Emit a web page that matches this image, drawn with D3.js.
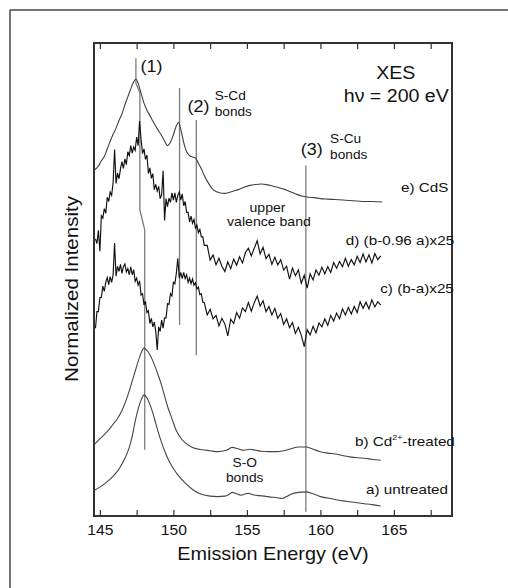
<!DOCTYPE html>
<html><head><meta charset="utf-8">
<script src="https://cdn.jsdelivr.net/npm/d3@7"></script>
<style>
body{margin:0;background:#fff}
svg{display:block}
text{font-family:"Liberation Sans", Arial, Helvetica, sans-serif; fill:#111}
</style>
</head><body>
<svg id="chart" width="508" height="588"></svg>
<script>
// ---------- DATA ----------
// Shared energy grid (eV) for the two difference spectra
const diffEnergy = [144.7,144.8,144.9,145.0,145.1,145.2,145.3,145.4,145.5,145.6,145.7,145.8,145.9,146.0,146.1,146.2,146.3,146.4,146.5,146.6,146.7,146.8,146.9,147.0,147.1,147.2,147.3,147.4,147.5,147.6,147.7,147.8,147.9,148.0,148.1,148.2,148.3,148.4,148.5,148.6,148.7,148.8,148.9,149.0,149.1,149.2,149.3,149.4,149.5,149.6,149.7,149.8,149.9,150.0,150.1,150.2,150.3,150.4,150.5,150.6,150.7,150.8,150.9,151.0,151.1,151.2,151.3,151.4,151.5,151.6,151.7,151.8,151.9,152.0,152.1,
152.3,152.5,152.7,152.9,153.1,153.3,153.5,153.7,153.9,154.1,154.3,154.5,154.7,154.9,155.1,155.3,155.5,155.7,155.9,156.1,156.3,156.5,156.7,156.9,157.1,157.3,157.5,157.7,157.9,158.1,158.3,158.5,158.7,158.9,159.1,159.3,159.5,159.7,159.9,160.1,160.3,160.5,160.7,160.9,161.1,161.3,161.5,161.7,161.9,162.1,162.3,162.5,162.7,162.9,163.1,163.3,163.5,163.7,163.9,164.1];

// c) (b-a)x25
const diffBA = [39.7,43.2,43.2,46.2,46.2,48.6,47.5,49.4,50.4,48.9,50.6,49.4,51.0,57.7,50.7,52.8,51.7,53.2,51.3,52.7,53.3,51.6,52.3,51.0,52.7,51.0,52.1,49.6,50.3,48.8,49.7,46.7,47.0,44.6,45.4,43.0,43.4,40.7,41.8,40.0,41.0,39.1,35.1,40.0,39.0,41.4,39.7,41.9,41.9,44.9,44.7,47.0,46.5,49.4,49.1,51.3,54.5,50.3,51.5,50.2,51.5,50.2,51.0,49.4,50.3,49.1,50.1,48.8,49.3,48.0,48.4,46.8,47.0,45.2,45.1,
42.5,43.7,41.7,42.4,40.2,41.8,40.6,38.1,41.6,40.7,43.0,41.8,44.0,43.2,45.1,43.3,45.1,46.5,44.4,45.5,43.2,44.3,42.5,43.9,41.8,42.8,40.5,41.7,39.8,40.9,38.6,39.9,38.2,35.8,39.4,38.3,40.1,38.7,40.8,40.0,41.7,40.3,42.4,41.2,42.9,41.7,43.8,42.5,44.1,42.7,44.3,43.0,45.3,43.9,45.2,43.8,45.7,44.2,45.3,44.6];

// d) (b-0.96 a)x25
const diffB096A = [58.6,57.6,60.4,56.0,63.5,63.0,65.0,64.0,67.4,66.5,68.5,67.8,70.5,77.5,70.3,72.5,71.3,73.4,74.9,73.5,75.5,74.3,77.0,76.2,78.3,76.7,78.0,77.3,80.1,78.3,83.5,79.7,76.6,77.6,75.4,76.3,72.4,73.6,71.4,72.4,69.0,70.1,68.7,69.7,67.1,67.9,73.0,62.5,67.1,65.4,67.2,66.3,68.3,66.8,68.3,66.3,67.8,68.5,66.8,68.1,65.6,66.5,64.2,64.2,62.2,63.4,61.9,62.7,60.9,61.5,59.9,60.6,59.0,59.0,57.2,
57.2,54.1,55.2,53.1,54.5,52.8,51.7,53.7,52.3,54.3,53.0,54.8,53.5,55.7,56.6,55.0,56.6,58.2,55.4,56.8,54.4,55.3,53.2,54.7,53.1,54.2,52.0,52.8,50.1,52.4,50.8,52.0,49.2,50.9,48.2,51.2,49.9,52.0,50.9,52.6,51.2,52.7,51.5,53.6,52.4,53.8,52.7,54.5,52.8,54.2,53.1,54.9,53.6,55.4,53.7,55.2,53.5,55.5,54.2,55.0];

// e) CdS
const cdsEnergy = [144.65,144.9,145.1,145.3,145.5,145.7,145.9,146.1,146.3,146.5,146.7,146.9,147.1,147.3,147.45,147.6,147.8,148.0,148.2,148.4,148.6,148.8,149.0,149.2,149.4,149.6,149.8,150.0,150.2,150.35,150.5,150.7,150.9,151.1,151.3,151.5,151.7,151.9,152.1,152.3,152.5,152.7,152.9,153.2,153.5,153.8,154.1,154.4,154.8,155.2,155.6,156.0,156.4,156.8,157.2,157.6,158.0,158.4,158.8,159.2,159.6,160.0,160.5,161.0,161.5,162.0,162.5,163.0,163.5,164.2];
const cdsIntensity = [73.2,74.0,75.1,76.0,77.6,79.2,80.7,82.0,83.6,85.0,86.9,88.6,90.3,91.8,92.4,91.5,89.4,87.3,85.8,84.7,83.5,82.4,81.4,80.4,79.3,78.3,79.0,80.6,82.5,83.2,81.8,79.0,77.0,76.2,75.9,75.7,74.6,73.4,72.0,70.8,69.8,69.0,68.6,68.3,68.2,68.4,68.7,69.0,69.5,69.9,70.1,70.2,70.0,69.7,69.4,69.0,68.5,68.0,67.6,67.4,67.3,67.1,67.0,66.9,66.8,66.7,66.6,66.5,66.5,66.4];

// b) Cd2+-treated
const treatedEnergy = [144.65,145.0,145.3,145.6,145.9,146.2,146.5,146.8,147.1,147.4,147.7,148.0,148.2,148.4,148.6,148.8,149.0,149.2,149.4,149.6,149.9,150.15,150.5,150.83,151.3,151.97,152.5,153.0,153.6,154.0,154.4,154.8,155.2,155.6,156.0,156.5,157.0,157.5,158.0,158.5,159.0,159.5,160.0,160.5,161.0,161.5,162.0,162.5,163.0,163.5,164.1];
const treatedIntensity = [15.2,16.3,17.2,18.2,19.4,20.6,22.3,24.6,27.5,30.6,33.6,35.5,35.0,34.1,32.8,31.2,29.5,27.6,25.4,23.2,20.6,18.4,16.5,15.4,14.5,14.0,13.8,13.6,13.9,14.5,14.2,13.9,14.1,13.9,13.7,13.6,13.6,13.8,14.2,14.6,14.6,14.1,13.6,13.3,13.1,12.8,12.5,12.3,12.2,12.0,11.8];

// a) untreated
const untreatedEnergy = [144.65,145.0,145.4,145.8,146.1,146.4,146.7,147.0,147.2,147.4,147.6,147.8,148.0,148.2,148.4,148.6,148.8,149.0,149.2,149.5,149.9,150.3,150.8,151.3,151.9,152.5,153.0,153.5,153.8,154.0,154.3,154.6,154.9,155.1,155.4,155.8,156.2,156.6,157.0,157.4,157.7,158.0,158.5,159.0,159.5,160.0,160.5,161.0,161.5,162.0,162.5,163.0,163.5,164.1];
const untreatedIntensity = [5.5,6.1,7.0,8.1,9.1,10.4,12.2,14.5,16.9,20.0,22.6,24.5,25.6,25.0,23.6,21.8,19.6,17.4,15.5,13.0,10.5,8.7,7.0,5.6,4.6,4.2,4.1,4.2,4.6,5.0,4.7,4.4,4.7,4.8,4.5,4.3,4.2,4.0,3.9,3.7,4.1,4.6,5.0,5.1,4.7,4.1,3.8,3.5,3.2,3.0,2.8,2.6,2.4,2.1];

// Marker lines (energy, intensity)
const marker1 = [[147.45,96.8],[147.45,91.5],[147.72,89.5],[147.72,64.7],[148.05,60.5],[148.05,14.0]];
const marker2a = [[150.42,90.5],[150.42,40.4]];
const marker2b = [[151.56,83.7],[151.56,34.0]];
const marker3 = [[159.01,74.1],[159.01,0.9]];

// Axis ticks
const xTicks = [145,147.5,150,152.5,155,157.5,160,162.5,165,167.5];
const xTickLabels = ["145","","150","","155","","160","","165",""];

// ---------- CHART ----------
const svg = d3.select("#chart");
const x = d3.scaleLinear().domain([144.6,168.95]).range([94,452]);
const y = d3.scaleLinear().domain([0,100]).range([516,43]);
const STRETCH = 1.12;

// outer frame (top and left edges)
svg.append("line").attr("x1",10).attr("y1",10).attr("x2",508).attr("y2",10).attr("stroke","#444").attr("stroke-width",1.5);
svg.append("line").attr("x1",10).attr("y1",10).attr("x2",10).attr("y2",588).attr("stroke","#444").attr("stroke-width",1.5);

const g = svg.append("g");

// marker lines
const mline = d3.line().x(d=>x(d[0])).y(d=>y(d[1]));
[marker1, marker2a, marker2b, marker3].forEach(m=>{
  g.append("path").attr("d", mline(m)).attr("fill","none").attr("stroke","#7c7c7c").attr("stroke-width",1.3);
});

function zipped(E, I){ return E.map((e,i)=>[e, I[i]]); }
const smooth = d3.line().x(d=>x(d[0])).y(d=>y(d[1])).curve(d3.curveMonotoneX);
const raw = d3.line().x(d=>x(d[0])).y(d=>y(d[1]));

g.append("path").attr("d", smooth(zipped(cdsEnergy, cdsIntensity))).attr("fill","none").attr("stroke","#404040").attr("stroke-width",1.1);
g.append("path").attr("d", raw(zipped(diffEnergy, diffB096A))).attr("fill","none").attr("stroke","#111").attr("stroke-width",1.15);
g.append("path").attr("d", raw(zipped(diffEnergy, diffBA))).attr("fill","none").attr("stroke","#111").attr("stroke-width",1.15);
g.append("path").attr("d", smooth(zipped(treatedEnergy, treatedIntensity))).attr("fill","none").attr("stroke","#454545").attr("stroke-width",1.1);
g.append("path").attr("d", smooth(zipped(untreatedEnergy, untreatedIntensity))).attr("fill","none").attr("stroke","#454545").attr("stroke-width",1.1);

// plot frame
g.append("rect").attr("x",x.range()[0]).attr("y",y.range()[1])
  .attr("width",x.range()[1]-x.range()[0]).attr("height",y.range()[0]-y.range()[1])
  .attr("fill","none").attr("stroke","#333").attr("stroke-width",2);

// axes
const axB = g.append("g").attr("transform",`translate(0,${y.range()[0]})`)
  .call(d3.axisBottom(x).tickValues(xTicks).tickSize(-6).tickPadding(9).tickFormat((d,i)=>xTickLabels[i]));
const axT = g.append("g").attr("transform",`translate(0,${y.range()[1]})`)
  .call(d3.axisTop(x).tickValues(xTicks).tickSize(-6).tickFormat(""));
[axB, axT].forEach(a=>{
  a.select(".domain").remove();
  a.selectAll(".tick line").attr("stroke","#333").attr("stroke-width",1.2);
});
axB.attr("font-family",null);
axB.selectAll(".tick text").attr("font-size",14).attr("fill","#111")
  .attr("transform",`scale(${STRETCH},1)`);

// text helper
function label(E, I, str, size, anchor){
  return svg.append("text")
    .attr("transform",`translate(${x(E)},${y(I)}) scale(${STRETCH},1)`)
    .attr("text-anchor", anchor || "start")
    .attr("font-size", size)
    .text(str);
}

label(147.76, 93.9, "(1)", 16);
label(150.96, 85.4, "(2)", 16);
label(152.81, 87.9, "S-Cd", 12.2);
label(152.81, 84.5, "bonds", 12.2);
label(158.67, 76.3, "(3)", 16);
label(160.66, 78.8, "S-Cu", 12.2);
label(160.66, 75.5, "bonds", 12.2);
label(165.13, 92.4, "XES", 17.5, "middle");
label(165.16, 87.6, "h\u03BD = 200 eV", 17.5, "middle");
label(165.48, 68.5, "e) CdS", 13.6);
label(156.4, 64.3, "upper", 12.6, "middle");
label(156.5, 61.3, "valence band", 12.6, "middle");
label(161.73, 57.3, "d) (b-0.96 a)x25", 13.6);
label(164.07, 47.1, "c) (b-a)x25", 13.6);
const tb = label(162.35, 14.8, "", 13.6);
tb.append("tspan").text("b) Cd");
tb.append("tspan").attr("font-size",8).attr("dy",-6).text("2+");
tb.append("tspan").attr("dy",6).text("-treated");
label(154.85, 10.4, "S-O", 12.3, "middle");
label(154.85, 7.25, "bonds", 12.3, "middle");
label(163.1, 4.65, "a) untreated", 13.6);

// axis titles
svg.append("text").attr("transform",`translate(${(x.range()[0]+x.range()[1])/2},560) scale(1.1,1)`)
  .attr("text-anchor","middle").attr("font-size",18).text("Emission Energy (eV)");
svg.append("text").attr("transform",`translate(78,289) rotate(-90) scale(1.14,1)`)
  .attr("text-anchor","middle").attr("font-size",18).text("Normalized Intensity");
</script>
</body></html>
